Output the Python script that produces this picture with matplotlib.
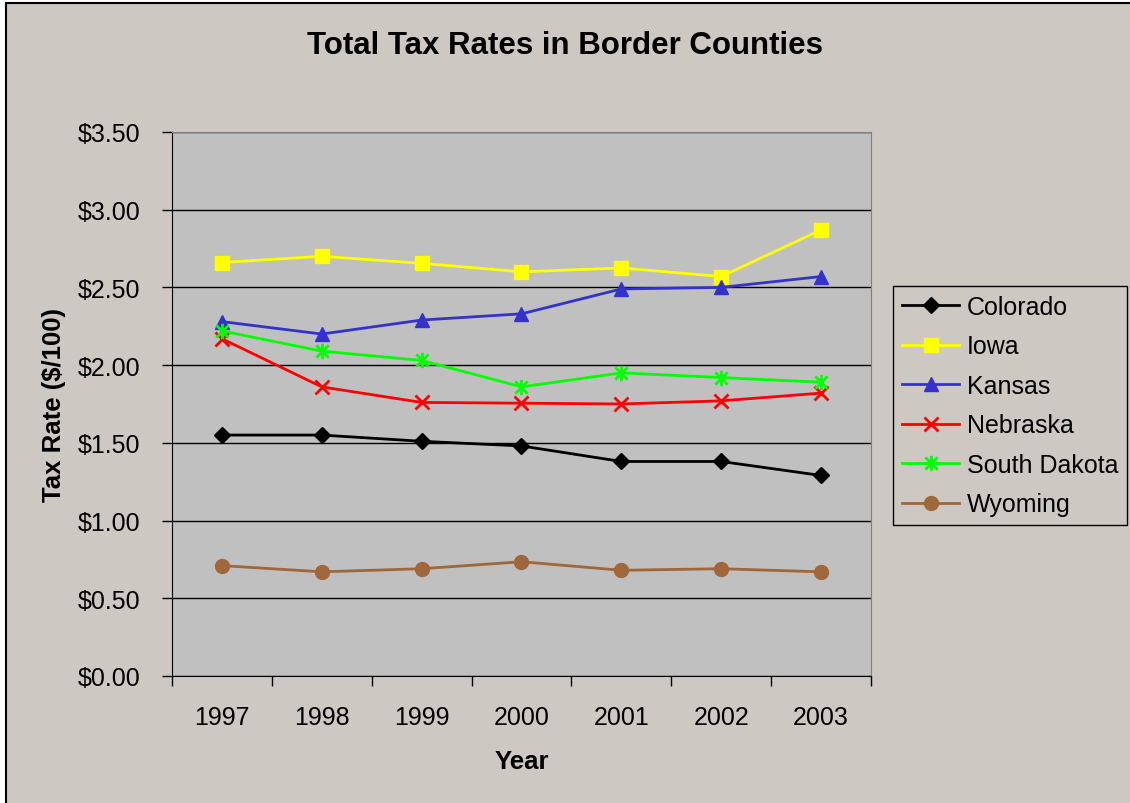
import matplotlib.pyplot as plt
import matplotlib.patches as mpatches
from matplotlib.path import Path
from matplotlib.ticker import FuncFormatter, FixedLocator

plt.rcParams['font.family'] = ['Liberation Sans', 'DejaVu Sans']

years = ["1997", "1998", "1999", "2000", "2001", "2002", "2003"]
colorado = [1.55, 1.55, 1.51, 1.48, 1.38, 1.38, 1.29]
iowa = [2.66, 2.70, 2.655, 2.60, 2.625, 2.57, 2.87]
kansas = [2.28, 2.20, 2.29, 2.33, 2.49, 2.50, 2.57]
nebraska = [2.17, 1.86, 1.76, 1.755, 1.75, 1.77, 1.82]
south_dakota = [2.22, 2.09, 2.03, 1.86, 1.95, 1.92, 1.89]
wyoming = [0.71, 0.67, 0.69, 0.735, 0.68, 0.69, 0.67]

# asterisk marker like excel's "star": vertical bar plus an X
star = Path([(0, -1), (0, 1), (-0.8, -0.8), (0.8, 0.8), (-0.8, 0.8), (0.8, -0.8)],
            [Path.MOVETO, Path.LINETO, Path.MOVETO, Path.LINETO, Path.MOVETO, Path.LINETO])

series = [
    ("Colorado", colorado, "black", "D", 8),
    ("Iowa", iowa, "#FFFF00", "s", 10),
    ("Kansas", kansas, "#3333CC", "^", 10),
    ("Nebraska", nebraska, "#FF0000", "x", 10),
    ("South Dakota", south_dakota, "#00FF00", star, 11),
    ("Wyoming", wyoming, "#A0673A", "o", 10),
]

bg = "#CEC8C3"
fig = plt.figure(figsize=(11.3, 8.04), dpi=100, facecolor="white")
# chart area: tan with black edge on the left and top (right/bottom run off the image)
fig.patches.append(mpatches.Rectangle((6 / 1130, -0.02), 1.05, 1.02 - 4 / 804,
                                      transform=fig.transFigure, facecolor=bg,
                                      edgecolor="black", lw=1.5, zorder=-10))

ax = fig.add_axes([0.1522, 0.158, 0.6186, 0.6766])
ax.set_facecolor("#C0C0C0")

x = list(range(len(years)))
for name, vals, col, mk, ms in series:
    ax.plot(x, vals, color=col, lw=2, marker=mk, markersize=ms,
            markeredgewidth=2 if mk == "x" or mk is star else 1,
            markerfacecolor=col, markeredgecolor=col, label=name, clip_on=False)

ax.set_xlim(-0.5, 6.5)
ax.set_ylim(0, 3.5)
ax.set_yticks([0, 0.5, 1, 1.5, 2, 2.5, 3, 3.5])
ax.yaxis.set_major_formatter(FuncFormatter(lambda v, p: f"${v:.2f}"))
ax.grid(axis="y", color="black", lw=1)
ax.set_axisbelow(True)

ax.set_xticks(x)
ax.set_xticklabels(years)
ax.xaxis.set_minor_locator(FixedLocator([i - 0.5 for i in range(len(years) + 1)]))
ax.tick_params(axis="x", which="major", length=0, pad=21, labelsize=18)
ax.tick_params(axis="x", which="minor", length=7, width=1, direction="out")
ax.tick_params(axis="y", length=7, width=1, direction="out", labelsize=18, pad=16)

for s in ("top", "right"):
    ax.spines[s].set_color("#808080")
for s in ("left", "bottom"):
    ax.spines[s].set_color("black")

ax.set_xlabel("Year", fontsize=18.5, fontweight="bold", labelpad=14)
ax.set_ylabel("Tax Rate ($/100)", fontsize=18.5, fontweight="bold", labelpad=8)
fig.text(0.5, 1 - 46 / 804, "Total Tax Rates in Border Counties", ha="center", va="center",
         fontsize=22.5, fontweight="bold")

leg = ax.legend(loc="upper left", bbox_to_anchor=(893 / 1130, 1 - 287 / 804),
                bbox_transform=fig.transFigure,
                fontsize=18, frameon=True, fancybox=False, edgecolor="black",
                facecolor=bg, framealpha=1, handlelength=2.3, labelspacing=0.62,
                borderpad=0.35, handletextpad=0.3, borderaxespad=0)
leg.get_frame().set_linewidth(1)

fig.savefig("out.png", dpi=100, facecolor="white")
